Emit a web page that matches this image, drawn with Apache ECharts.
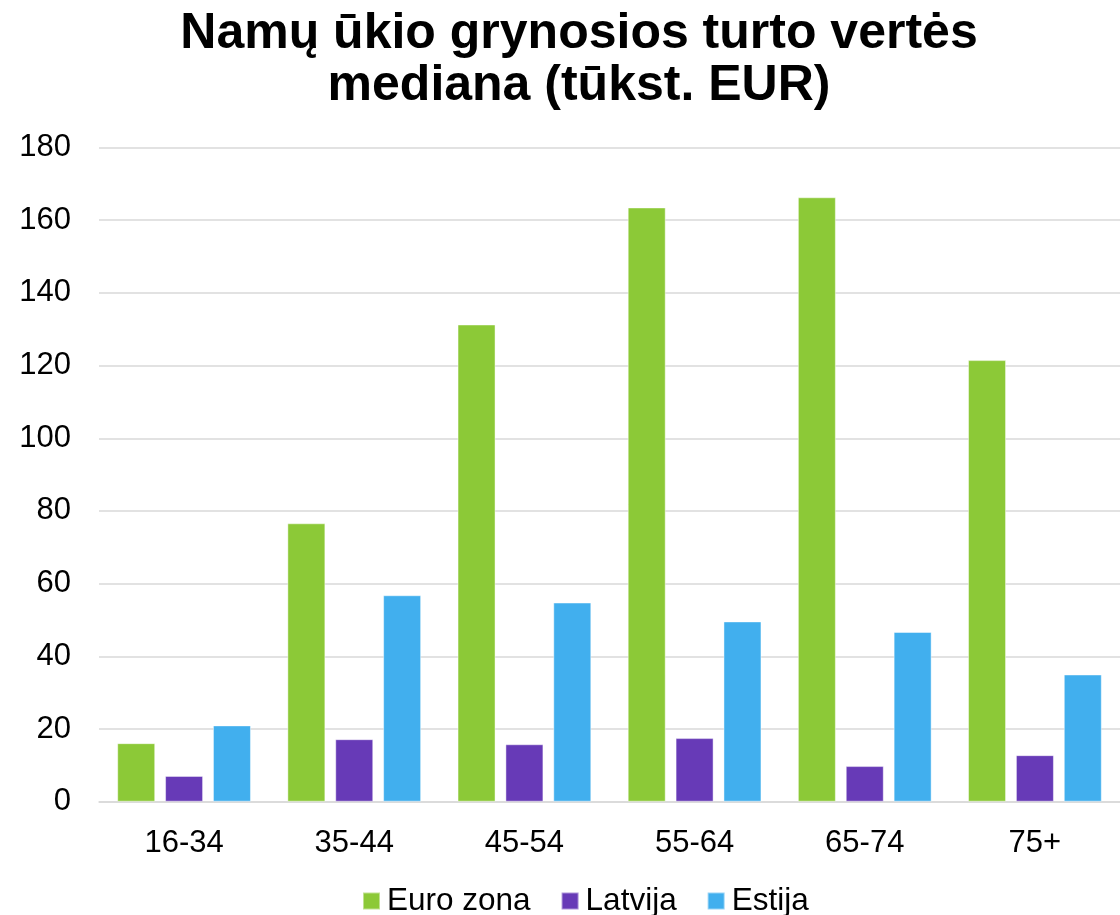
<!DOCTYPE html>
<html>
<head>
<meta charset="utf-8">
<script src="https://cdn.jsdelivr.net/npm/echarts@6/dist/echarts.min.js"></script>
<style>
  html, body { margin: 0; padding: 0; background: #fff; }
  #chart { width: 1120px; height: 915px; }
</style>
</head>
<body>
<div id="chart"></div>
<script>
// kategorijos (amžiaus grupės)
const categories = ['16-34', '35-44', '45-54', '55-64', '65-74', '75+']
// reikšmės, tūkst. EUR
const euroZona = [16.1, 76.6, 131.3, 163.5, 166.3, 121.5]
const latvija = [7.1, 17.2, 15.8, 17.5, 9.8, 12.8]
const estija = [21.0, 56.8, 54.8, 49.6, 46.7, 35.0]
const yTicks = [0, 20, 40, 60, 80, 100, 120, 140, 160, 180]

const font = 'Liberation Sans, Arial, sans-serif'
const mycharts = echarts.init(document.getElementById('chart'))

function barSeries(name, data, color) {
  return {
    name: name,
    type: 'bar',
    data: data,
    barWidth: 38,
    barGap: '26%',
    itemStyle: {
      color: color,
      borderColor: 'rgba(255,255,255,0.45)',
      borderWidth: 1
    }
  }
}

mycharts.setOption({
  animation: false,
  title: {
    text: 'Namų ūkio grynosios turto vertės\nmediana (tūkst. EUR)',
    left: 579,
    top: 8,
    padding: 0,
    textAlign: 'center',
    textStyle: {
      fontFamily: font,
      fontSize: 50,
      fontWeight: 'bold',
      lineHeight: 52,
      color: '#000'
    }
  },
  legend: {
    left: 362,
    top: 885,
    padding: 0,
    icon: 'rect',
    itemWidth: 17,
    itemHeight: 17,
    itemGap: 30,
    textStyle: {
      fontFamily: font,
      fontSize: 31.5,
      color: '#000',
      padding: [0, 0, 0, 2]
    }
  },
  grid: {
    left: 99,
    top: 147.5,
    width: 1030,
    bottom: 113.3,
    containLabel: false
  },
  xAxis: {
    type: 'category',
    data: categories,
    axisLine: { show: true, lineStyle: { color: '#d9d9d9', width: 1.5 } },
    axisTick: { show: false },
    axisLabel: {
      fontFamily: font,
      fontSize: 31,
      color: '#000',
      margin: 26
    }
  },
  yAxis: {
    type: 'value',
    min: yTicks[0],
    max: yTicks[yTicks.length - 1],
    interval: 20,
    axisLine: { show: false },
    axisTick: { show: false },
    splitLine: { lineStyle: { color: '#d9d9d9', width: 1.5 } },
    axisLabel: {
      fontFamily: font,
      fontSize: 31,
      color: '#000',
      margin: 28
    }
  },
  series: [
    barSeries('Euro zona', euroZona, '#8cc937'),
    barSeries('Latvija', latvija, '#673ab7'),
    barSeries('Estija', estija, '#41afee')
  ]
})
</script>
</body>
</html>
